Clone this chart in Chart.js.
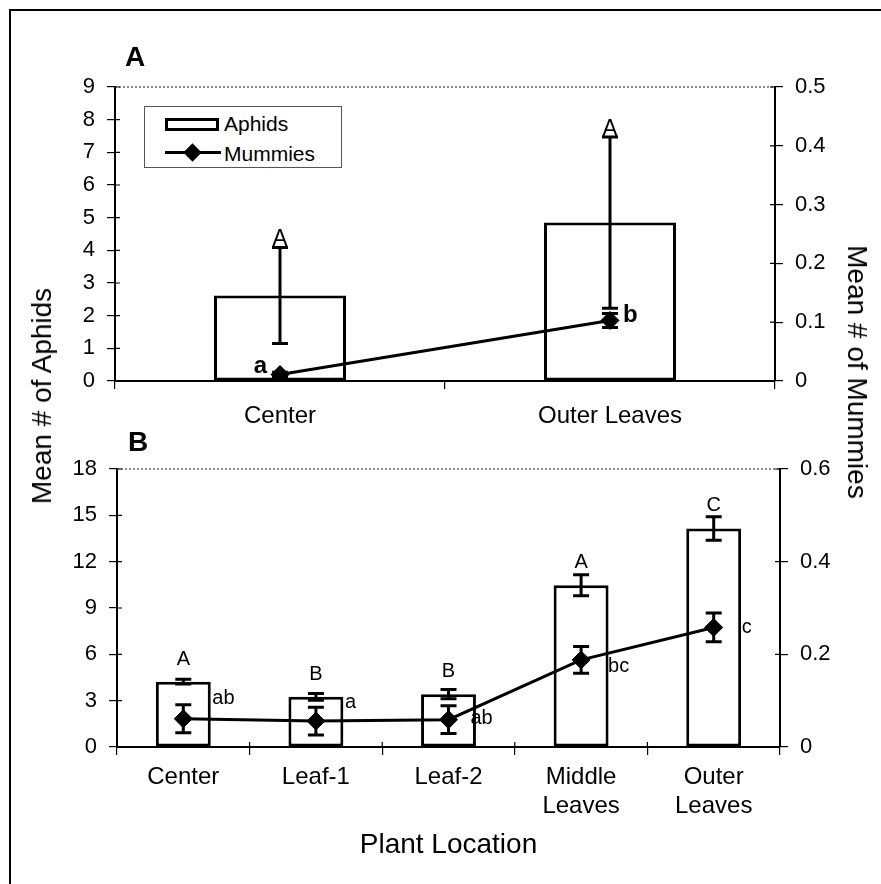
<!DOCTYPE html>
<html>
<head>
<meta charset="utf-8">
<script src="https://cdn.jsdelivr.net/npm/chart.js@4.4.1/dist/chart.umd.min.js"></script>
<style>
html,body{margin:0;padding:0;background:#fff;}
#wrap{position:relative;width:881px;height:884px;overflow:hidden;background:#fff;font-family:"Liberation Sans",Arial,Helvetica,sans-serif;color:#000;}
#wrap canvas{position:absolute;left:0;top:0;}
.frame{position:absolute;left:9px;top:9px;width:950px;height:950px;border-top:2px solid #000;border-left:2px solid #000;box-sizing:border-box;}
.panel{position:absolute;font-weight:bold;font-size:28px;line-height:28px;}
.atitle{position:absolute;font-size:28px;line-height:28px;white-space:nowrap;}
.legend{position:absolute;left:144px;top:106px;width:198px;height:62px;border:1px solid #555;box-sizing:border-box;background:#fff;}
.lg-text{position:absolute;font-size:21px;line-height:21px;white-space:nowrap;}
.lg-box{position:absolute;left:20px;top:11px;width:54px;height:13px;border:3px solid #000;box-sizing:border-box;background:#fff;}
.lg-line{position:absolute;left:20px;top:44px;width:56px;height:3px;background:#000;}
.lg-diamond{position:absolute;left:41px;top:39px;width:13px;height:13px;background:#000;transform:rotate(45deg);}
</style>
</head>
<body>
<div id="wrap">
  <div class="frame"></div>
  <canvas id="chartA" width="881" height="884"></canvas>
  <canvas id="chartB" width="881" height="884"></canvas>
  <div class="panel" style="left:125px;top:43px;">A</div>
  <div class="panel" style="left:128px;top:428px;">B</div>
  <div class="legend">
    <div class="lg-box"></div>
    <div class="lg-text" style="left:79px;top:6px;">Aphids</div>
    <div class="lg-line"></div>
    <div class="lg-diamond"></div>
    <div class="lg-text" style="left:79px;top:36px;">Mummies</div>
  </div>
  <div class="atitle" style="left:42px;top:396px;transform:translate(-50%,-50%) rotate(-90deg);">Mean # of Aphids</div>
  <div class="atitle" style="left:857px;top:372px;transform:translate(-50%,-50%) rotate(90deg);">Mean # of Mummies</div>
</div>
<script>
// ---------- Panel A data ----------
const categoriesA = ['Center', 'Outer Leaves'];
const aphidsA = [2.62, 4.85];
const aphidsErrA = [1.47, 2.62];
const mummiesA = [0.011, 0.103];
const mummiesErrA = [0.004, 0.012];
const aphidLettersA = ['A', 'A'];
const mummyLettersA = ['a', 'b'];
const leftTicksA = ['0', '1', '2', '3', '4', '5', '6', '7', '8', '9'];
const rightTicksA = ['0', '0.1', '0.2', '0.3', '0.4', '0.5'];

// ---------- Panel B data ----------
const categoriesB = ['Center', 'Leaf-1', 'Leaf-2', ['Middle', 'Leaves'], ['Outer', 'Leaves']];
const aphidsB = [4.23, 3.25, 3.42, 10.48, 14.15];
const aphidsErrB = [0.15, 0.22, 0.3, 0.68, 0.76];
const mummiesB = [0.061, 0.056, 0.059, 0.188, 0.258];
const mummiesErrB = [0.03, 0.03, 0.03, 0.029, 0.031];
const aphidLettersB = ['A', 'B', 'B', 'A', 'C'];
const mummyLettersB = ['ab', 'a', 'ab', 'bc', 'c'];
const leftTicksB = ['0', '3', '6', '9', '12', '15', '18'];
const rightTicksB = ['0', '0.2', '0.4', '0.6'];

const FONT = '"Liberation Sans", Arial, Helvetica, sans-serif';
Chart.defaults.font.family = FONT;
Chart.defaults.color = '#000';

// error bars drawn through the library scales
const errorBars = {
  id: 'errorBars',
  afterDatasetsDraw(chart, args, opts) {
    const ctx = chart.ctx;
    chart.data.datasets.forEach((ds, di) => {
      if (!ds.errors) return;
      const meta = chart.getDatasetMeta(di);
      const ys = chart.scales[ds.yAxisID];
      ctx.save();
      ctx.strokeStyle = '#000';
      ctx.lineWidth = opts.lineWidth || 3;
      meta.data.forEach((el, i) => {
        const v = ds.data[i], e = ds.errors[i];
        const x = el.x;
        const yT = ys.getPixelForValue(v + e);
        const yB = ys.getPixelForValue(v - e);
        const c = opts.cap || 8;
        ctx.beginPath();
        ctx.moveTo(x, yT); ctx.lineTo(x, yB);
        ctx.moveTo(x - c, yT); ctx.lineTo(x + c, yT);
        ctx.moveTo(x - c, yB); ctx.lineTo(x + c, yB);
        ctx.stroke();
      });
      ctx.restore();
    });
  }
};

// significance letters
const letters = {
  id: 'letters',
  afterDatasetsDraw(chart, args, opts) {
    const ctx = chart.ctx;
    (opts.items || []).forEach(item => {
      const ds = chart.data.datasets[item.dataset];
      const meta = chart.getDatasetMeta(item.dataset);
      const ys = chart.scales[ds.yAxisID];
      ctx.save();
      ctx.fillStyle = '#000';
      ctx.font = item.font;
      ctx.textBaseline = item.baseline;
      item.texts.forEach((t, i) => {
        const el = meta.data[i];
        const y0 = item.anchor === 'cap' ? ys.getPixelForValue(ds.data[i] + ds.errors[i]) : el.y;
        const dx = Array.isArray(item.dx) ? item.dx[i] : item.dx;
        const dy = Array.isArray(item.dy) ? item.dy[i] : item.dy;
        ctx.textAlign = Array.isArray(item.align) ? item.align[i] : item.align;
        ctx.fillText(t, el.x + dx, y0 + dy);
      });
      ctx.restore();
    });
  }
};

// dotted top border of plot area + inner halves of the cross tick marks
const axisDeco = {
  id: 'axisDeco',
  afterDraw(chart, args, opts) {
    const ctx = chart.ctx, a = chart.chartArea;
    ctx.save();
    ctx.strokeStyle = '#666';
    ctx.lineWidth = 1.5;
    ctx.setLineDash([2, 2]);
    ctx.beginPath(); ctx.moveTo(a.left, a.top); ctx.lineTo(a.right, a.top); ctx.stroke();
    ctx.setLineDash([]);
    ctx.strokeStyle = '#000';
    ctx.lineWidth = 1.2;
    const inner = opts.inner || 5;
    const sy = chart.scales.y, sy1 = chart.scales.y1;
    ctx.beginPath();
    sy.ticks.forEach((t, i) => { const p = sy.getPixelForTick(i); ctx.moveTo(a.left, p); ctx.lineTo(a.left + inner, p); });
    sy1.ticks.forEach((t, i) => { const p = sy1.getPixelForTick(i); ctx.moveTo(a.right - inner, p); ctx.lineTo(a.right, p); });
    if (opts.xInner) {
      const sx = chart.scales.x;
      for (let i = 0; i <= sx.ticks.length; i++) {
        const p = sx.getPixelForValue(i - 0.5);
        ctx.moveTo(p, a.bottom); ctx.lineTo(p, a.bottom - opts.xInner);
      }
    }
    ctx.stroke();
    ctx.restore();
  }
};

function yAxis(pos, min, max, step, labels, width, pad) {
  return {
    position: pos, min: min, max: max,
    ticks: { stepSize: step, padding: pad, font: { size: 22 }, color: '#000',
      callback: (v, i) => labels[i] },
    grid: { drawOnChartArea: false, drawTicks: true, tickLength: 8, color: '#000', lineWidth: 1.2 },
    border: { display: true, color: '#000', width: 2 },
    afterFit: s => { s.width = width; }
  };
}

function xAxis(height, pad, title) {
  const ax = {
    type: 'category',
    offset: true,
    ticks: { padding: pad, font: { size: 24, lineHeight: 1.2 }, color: '#000', maxRotation: 0, autoSkip: false },
    grid: { drawOnChartArea: false, offset: true, drawTicks: true, tickLength: 8, color: '#000', lineWidth: 1.2 },
    border: { display: true, color: '#000', width: 2 },
    afterFit: s => { s.height = height; }
  };
  if (title) ax.title = title;
  return ax;
}

new Chart(document.getElementById('chartA'), {
  type: 'bar',
  data: {
    labels: categoriesA,
    datasets: [
      { type: 'line', label: 'Mummies', data: mummiesA, errors: mummiesErrA, yAxisID: 'y1',
        borderColor: '#000', borderWidth: 3, backgroundColor: '#000',
        pointStyle: 'rectRot', pointRadius: 9, pointBackgroundColor: '#000', pointBorderColor: '#000',
        pointBorderWidth: 1, tension: 0, order: 0 },
      { type: 'bar', label: 'Aphids', data: aphidsA, errors: aphidsErrA, yAxisID: 'y',
        backgroundColor: '#fff', borderColor: '#000', borderWidth: 3, borderSkipped: false,
        categoryPercentage: 1, barPercentage: 0.4, order: 1 }
    ]
  },
  options: {
    responsive: false, animation: false, devicePixelRatio: 1,
    layout: { padding: { left: 0, right: 0, top: 87, bottom: 443 } },
    plugins: {
      legend: { display: false }, tooltip: { enabled: false },
      errorBars: { lineWidth: 3, cap: 8 },
      axisDeco: { inner: 5 },
      letters: { items: [
        { dataset: 1, texts: aphidLettersA, anchor: 'cap', dx: 0, dy: -1, align: 'center', baseline: 'alphabetic', font: '23px ' + FONT },
        { dataset: 0, texts: mummyLettersA, anchor: 'point', dx: [-13, 13], dy: [-8, -5], align: ['right', 'left'], baseline: 'middle', font: 'bold 24px ' + FONT }
      ] }
    },
    scales: {
      x: xAxis(60, 13),
      y: yAxis('left', 0, 9, 1, leftTicksA, 115, 12),
      y1: yAxis('right', 0, 0.5, 0.1, rightTicksA, 106, 12)
    }
  },
  plugins: [errorBars, letters, axisDeco]
});

new Chart(document.getElementById('chartB'), {
  type: 'bar',
  data: {
    labels: categoriesB,
    datasets: [
      { type: 'line', label: 'Mummies', data: mummiesB, errors: mummiesErrB, yAxisID: 'y1',
        borderColor: '#000', borderWidth: 3, backgroundColor: '#000',
        pointStyle: 'rectRot', pointRadius: 9, pointBackgroundColor: '#000', pointBorderColor: '#000',
        pointBorderWidth: 1, tension: 0, order: 0 },
      { type: 'bar', label: 'Aphids', data: aphidsB, errors: aphidsErrB, yAxisID: 'y',
        backgroundColor: '#fff', borderColor: '#000', borderWidth: 3, borderSkipped: false,
        categoryPercentage: 1, barPercentage: 0.414, order: 1 }
    ]
  },
  options: {
    responsive: false, animation: false, devicePixelRatio: 1,
    layout: { padding: { left: 0, right: 0, top: 469, bottom: 0 } },
    plugins: {
      legend: { display: false }, tooltip: { enabled: false },
      errorBars: { lineWidth: 3, cap: 8 },
      axisDeco: { inner: 5, xInner: 5 },
      letters: { items: [
        { dataset: 1, texts: aphidLettersB, anchor: 'point', dx: 0, dy: -17, align: 'center', baseline: 'alphabetic', font: '20px ' + FONT },
        { dataset: 0, texts: mummyLettersB, anchor: 'point', dx: [29, 29, 22, 27, 28], dy: [-20, -19, -1, 7, 0], align: 'left', baseline: 'middle', font: '20px ' + FONT }
      ] }
    },
    scales: {
      x: xAxis(137, 8, { display: true, text: 'Plant Location', font: { size: 28, lineHeight: 1.2 }, color: '#000', padding: { top: 0, bottom: 22 } }),
      y: yAxis('left', 0, 18, 3, leftTicksB, 117, 12),
      y1: yAxis('right', 0, 0.6, 0.2, rightTicksB, 101, 12)
    }
  },
  plugins: [errorBars, letters, axisDeco]
});
</script>
</body>
</html>
